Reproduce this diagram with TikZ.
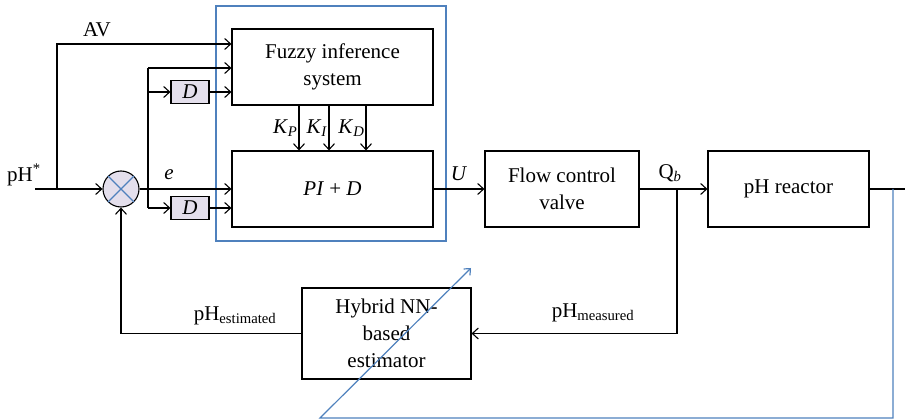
\documentclass[tikz,border=0pt]{standalone}
\usepackage{fontspec}
\setmainfont{Liberation Serif}
\usepackage{tikz}
\usetikzlibrary{arrows.meta,calc,positioning}
\definecolor{frameblue}{RGB}{79,129,189}
\definecolor{lavender}{RGB}{228,223,236}

\begin{document}
\begin{tikzpicture}[x=1pt,y=-1pt]
\tikzstyle{block}=[rectangle, draw=black, line width=1.1pt, align=center, font=\fontsize{21}{27}\selectfont]
\tikzstyle{dbox}=[block, fill=lavender, minimum width=38pt, minimum height=23pt, inner sep=0pt]
\tikzstyle{sumnode}=[circle, draw=black, line width=1.1pt, fill=lavender, minimum size=36pt, inner sep=0pt]
\tikzstyle{connect}=[-{Straight Barb[length=6pt,width=11pt]}, line width=1.1pt]
\tikzstyle{wire}=[line width=1.1pt]
\tikzstyle{lbl}=[font=\fontsize{21}{24}\selectfont, inner sep=0pt]
\tikzstyle{frame}=[draw=frameblue, line width=1.2pt]

\useasboundingbox (0,0) rectangle (905,419);

  % blocks
  \node[block, minimum width=201pt, minimum height=76pt] (fuzzy)   at (332.5,67)  {Fuzzy inference\\system};
  \node[block, minimum width=201pt, minimum height=76pt] (pid)     at (332.5,189) {\textit{PI} + \textit{D}};
  \node[block, minimum width=154pt, minimum height=76pt] (valve)   at (562,189)   {Flow control\\valve};
  \node[block, minimum width=161pt, minimum height=76pt] (reactor) at (788.5,189) {pH reactor};
  \node[block, minimum width=169pt, minimum height=91pt] (estim)   at (386.5,333.5) {Hybrid NN-\\based\\estimator};
  \node[dbox] (dup)  at (190,92)  {\textit{D}};
  \node[dbox] (dlow) at (190,208) {\textit{D}};
  \node[sumnode] (sum) at (121,189) {};
  \draw[frameblue, line width=1.1pt] (sum.north west) -- (sum.south east);
  \draw[frameblue, line width=1.1pt] (sum.north east) -- (sum.south west);

  % adaptive frame
  \draw[frame] (216,6) rectangle (446,241);

  % points
  \coordinate (in)    at (35,189);
  \coordinate (av)    at (57,189);
  \coordinate (brtop) at (148,68);
  \coordinate (brbot) at (148,208);
  \coordinate (qb)    at (677,189);
  \coordinate (tap)   at (893,189);
  \coordinate (out)   at (905,189);
  \coordinate (bl1)   at (893,418);
  \coordinate (bl2)   at (320,418);
  \coordinate (tip)   at (471,268);

  % signal lines
  \path (in) edge [connect] (sum.west);
  \draw[connect] (av) |- ([yshift=23pt]fuzzy.west);
  \path (sum.east) edge [connect] (pid.west);
  \draw[wire] (brtop) -- (brbot);
  \path (brtop) edge [connect] (brtop -| fuzzy.west);
  \path (dup.west -| brtop) edge [connect] (dup.west);
  \path (dup.east) edge [connect] (dup.east -| fuzzy.west);
  \path (dlow.west -| brtop) edge [connect] (dlow.west);
  \path (dlow.east) edge [connect] (dlow.east -| pid.west);
  \foreach \x/\k in {299/P, 329/I, 366/D}
    \path (fuzzy.south -| \x,0) edge [connect] node [lbl, left=1pt] {\textit{K}\textsubscript{\textit{\k}}} (pid.north -| \x,0);
  \path (pid.east) edge [connect] node [lbl, above=8pt] {\textit{U}} (valve.west);
  \path (valve.east) edge [connect] (reactor.west);
  \draw[wire] (reactor.east) -- (out);
  \draw[connect] (qb) |- (estim.east);
  \draw[connect] (estim.west) -| (sum.south);
  \draw[frame, -{Straight Barb[length=5pt,width=9pt]}] (tap) -- (bl1) -- (bl2) -- (tip);

  % labels
  \node[lbl] (avlbl)   at (97,30)   {AV};
  \node[lbl] (phref)   at (24,175)  {pH\textsuperscript{*}};
  \node[lbl] (elbl)    at (169,175) {\textit{e}};
  \node[lbl] (qblbl)   at (670,173) {Q\textsubscript{\textit{b}}};
  \node[lbl] (measlbl) at (593,313) {pH\textsubscript{measured}};
  \node[lbl] (estlbl)  at (235,316) {pH\textsubscript{estimated}};

\end{tikzpicture}
\end{document}
